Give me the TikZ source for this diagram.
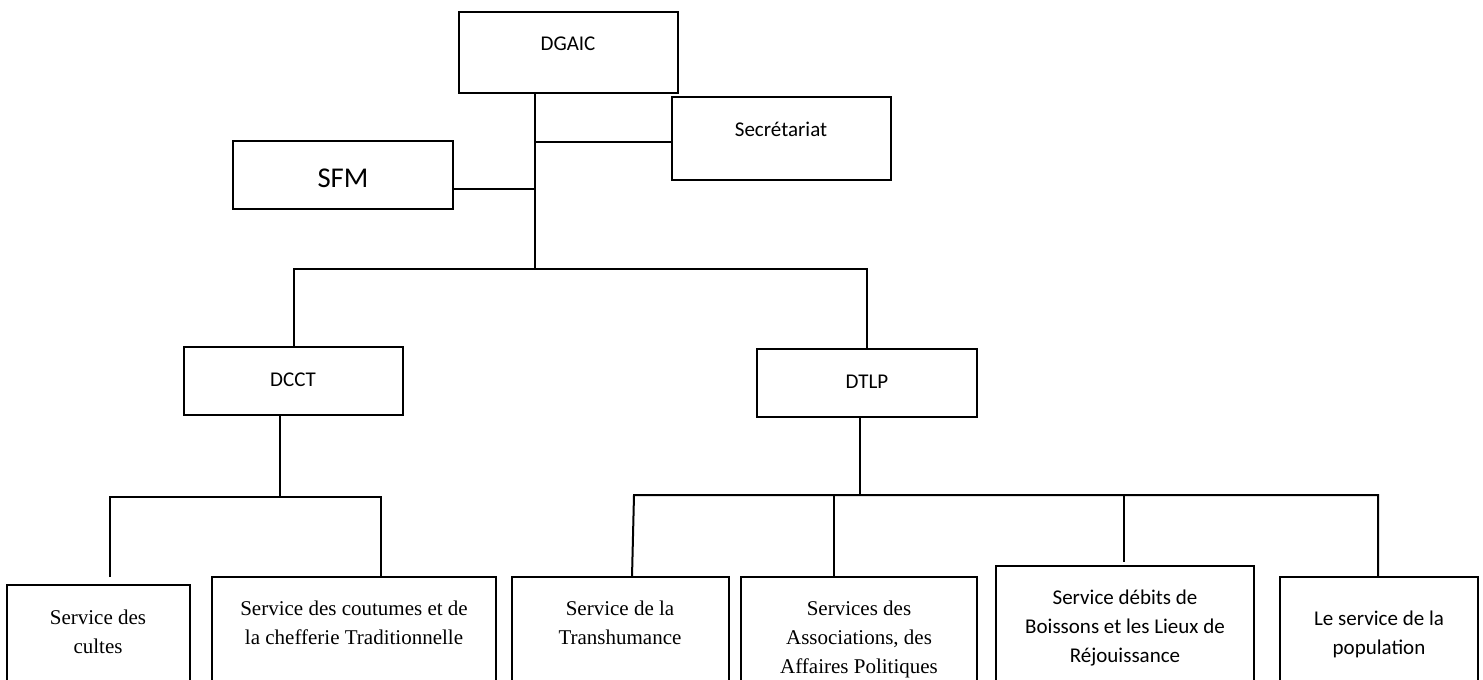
\documentclass[tikz,border=0pt]{standalone}
\usepackage{fontspec}
\setmainfont{Liberation Serif}
\newfontfamily\calfont{Carlito}
\newcommand\bx[5]{\node[box,minimum width={(#4-#2)*0.75pt},minimum height={(#5-#3)*0.75pt}] (#1) at ({(#2+#4)/2},{(#3+#5)/2}) {};}
\newcommand\twol[2]{\begin{tabular}[t]{@{}c@{}}#1\\#2\end{tabular}}
\newcommand\threel[3]{\begin{tabular}[t]{@{}c@{}}#1\\#2\\#3\end{tabular}}
\begin{document}
\begin{tikzpicture}[x=0.75pt,y=-0.75pt,
  box/.style={draw,line width=1.5pt,inner sep=0pt,outer sep=0pt,rectangle},
  ln/.style={line width=1.5pt},
  sans/.style={font=\calfont\fontsize{15.75}{21.75}\selectfont,inner sep=0pt,anchor=base},
  serif/.style={font=\fontsize{15.75}{21.75}\selectfont,inner sep=0pt,anchor=base}]
\useasboundingbox (0,0) rectangle (1483,680);
\clip (0,0) rectangle (1483,680);
% boxes
\bx{dgaic}{459}{12}{678}{93}
\bx{sec}{672}{97}{891}{180}
\bx{sfm}{233}{141}{453}{209}
\bx{dcct}{184}{347}{403}{415}
\bx{dtlp}{757}{349}{977}{417}
\bx{b1}{7}{585}{190}{700}
\bx{b2}{212}{577}{496}{700}
\bx{b3}{512}{577}{729}{700}
\bx{b4}{741}{577}{977}{700}
\bx{b5}{996}{566}{1254}{700}
\bx{b6}{1280}{577}{1478}{700}
% texts
\node[sans] (tdgaic) at (568,51) {DGAIC};
\node[sans] (tsec) at (781,137) {Secrétariat};
\node[sans,font=\calfont\fontsize{21.5}{26}\selectfont] (tsfm) at (343,188) {SFM};
\node[sans] (tdcct) at (293,387) {DCCT};
\node[sans] (tdtlp) at (867,388) {DTLP};
\node[serif] (tb1) at (98,624) {\twol{Service des}{cultes}};
\node[serif] (tb2) at (354,615) {\twol{Service des coutumes et de}{la chefferie Traditionnelle}};
\node[serif] (tb3) at (620,615) {\twol{Service de la}{Transhumance}};
\node[serif] (tb4) at (859,615) {\threel{Services des}{Associations, des}{Affaires Politiques}};
\node[sans] (tb5) at (1125,604) {\threel{Service débits de}{Boissons et les Lieux de}{Réjouissance}};
\node[sans] (tb6) at (1379,625) {\twol{Le service de la}{population}};
% junction coordinates
\coordinate (t1) at (535,142);
\coordinate (t2) at (535,189);
\coordinate (t3) at (535,269);
\coordinate (d1) at (280,497);
\coordinate (k1) at (110,497);
\coordinate (k2) at (381,497);
\coordinate (e1) at (110,577);
\coordinate (d2) at (860,495);
\coordinate (m1) at (634,495);
\coordinate (f3) at (632,577);
\coordinate (m4) at (834,495);
\coordinate (m5) at (1124,495);
\coordinate (e5) at (1124,562);
\coordinate (m6) at (1378,495);
% connectors
\draw[ln] (dgaic.south -| t1) -- (t3);
\draw[ln] (t1) -- (sec.west |- t1);
\draw[ln] (sfm.east |- t2) -- (t2);
\draw[ln] (dcct.north) |- (t3) -| (dtlp.north);
\draw[ln] (dcct.south -| d1) -- (d1);
\draw[ln] (e1) -- (k1) -- (k2) -- (b2.north -| k2);
\draw[ln] (dtlp.south -| d2) -- (d2);
\draw[ln] (f3) -- (m1) -- (m6) -- (b6.north -| m6);
\draw[ln] (m4) -- (b4.north -| m4);
\draw[ln] (m5) -- (e5);
\end{tikzpicture}
\end{document}
